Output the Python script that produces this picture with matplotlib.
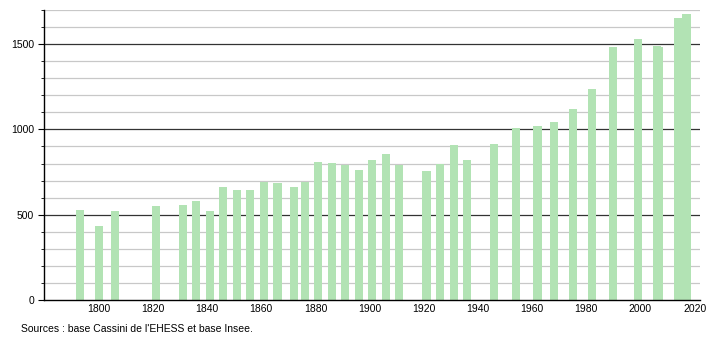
import numpy as np
import matplotlib
matplotlib.use('Agg')
import matplotlib.pyplot as plt
from matplotlib.ticker import MultipleLocator

# census years and population
years = [1793, 1800, 1806, 1821, 1831, 1836, 1841, 1846, 1851, 1856,
         1861, 1866, 1872, 1876, 1881, 1886, 1891, 1896, 1901, 1906,
         1911, 1921, 1926, 1931, 1936, 1946, 1954, 1962, 1968, 1975,
         1982, 1990, 1999, 2006, 2007, 2014, 2017]
pop = [529, 435, 519, 549, 559, 578, 519, 663, 647, 647,
       690, 684, 661, 690, 808, 806, 790, 765, 820, 853,
       790, 759, 798, 906, 818, 912, 1006, 1018, 1041, 1118,
       1235, 1482, 1531, 1488, 1481, 1653, 1676]
xticks = [1800, 1820, 1840, 1860, 1880, 1900, 1920, 1940, 1960, 1980, 2000, 2020]
source = "Sources : base Cassini de l'EHESS et base Insee."

plt.rcParams['font.family'] = ['Liberation Sans', 'DejaVu Sans']

fig = plt.figure(figsize=(7.1, 3.4), dpi=100)
ax = fig.add_axes([0.062, 0.1176, 0.924, 0.853])

# grid: light every 100, dark every 500
for v in range(100, 1701, 100):
    if v % 500 == 0:
        ax.axhline(v, color='#333333', lw=0.9, zorder=1)
    else:
        ax.axhline(v, color='#c8c8c8', lw=0.9, zorder=1)

ax.bar(years, pop, width=3, color='#b2e3b4', edgecolor='none', zorder=2)

ax.set_xlim(1779.8, 2022)
ax.set_ylim(0, 1700)
ax.set_xticks(xticks)
ax.set_yticks([0, 500, 1000, 1500])
ax.yaxis.set_minor_locator(MultipleLocator(100))
ax.tick_params(axis='x', length=0, pad=3, labelsize=7.5)
ax.tick_params(axis='y', which='major', length=4.3, width=0.8, pad=3, labelsize=7.5)
ax.tick_params(axis='y', which='minor', length=2.2, width=0.6)

for s in ['top', 'right']:
    ax.spines[s].set_visible(False)
for s in ['left', 'bottom']:
    ax.spines[s].set_linewidth(1.0)
    ax.spines[s].set_color('black')
    ax.spines[s].set_zorder(3)

fig.text(0.029, 0.032, source, fontsize=7.5, ha='left', va='center')

fig.savefig('out.png', dpi=100)
